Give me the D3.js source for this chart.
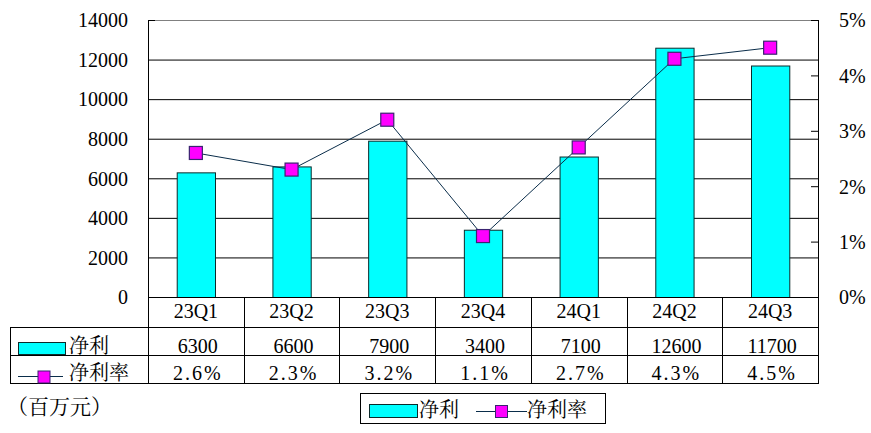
<!DOCTYPE html>
<html><head><meta charset="utf-8">
<script src="https://cdn.jsdelivr.net/npm/d3@7/dist/d3.min.js"></script>
<style>
body{margin:0;background:#fff;}
svg{display:block;}
</style>
</head><body>
<svg id="c" width="871" height="433"></svg>
<script>
const categories = ["23Q1","23Q2","23Q3","23Q4","24Q1","24Q2","24Q3"];
const profit = [6300,6600,7900,3400,7100,12600,11700];
const margin = [0.026,0.023,0.032,0.011,0.027,0.043,0.045];
const marginLabels = ["2.6%","2.3%","3.2%","1.1%","2.7%","4.3%","4.5%"];
const leftTicks = [0,2000,4000,6000,8000,10000,12000,14000];
const rightTicks = [0,0.01,0.02,0.03,0.04,0.05];
const seriesNames = ["净利","净利率"];
const unitLabel = "（百万元）";

const SERIF = "'Liberation Serif', 'Times New Roman', serif";
const CJK = "'Noto Serif CJK SC', 'Noto Sans CJK SC', serif";

const svg = d3.select("#c");
const L = 148, R = 818, T = 20, B = 297;
const rowY = [297, 327, 355, 383];
const tableLeft = 10;

const x = d3.scaleBand().domain(categories).range([L, R]).padding(0);
const y = d3.scaleLinear().domain([0,14000]).range([B, T]);
const y2 = d3.scaleLinear().domain([0,0.05]).range([B, T]);

const cyan = "#00FFFF", barStroke = "#0b2b2b", lineCol = "#0a2d4a", mag = "#FF00FF", magStroke = "#3a2370";

function numStyle(sel){ sel.attr("font-family",SERIF).attr("font-size",20).attr("fill","#000").style("font-family",SERIF); }
function cjkStyle(sel){ sel.attr("font-family",CJK).attr("font-size",20).attr("fill","#000").style("font-family",CJK); }

// gridlines
svg.append("g").selectAll("line").data(leftTicks.filter(d=>d>0)).join("line")
  .attr("x1", L).attr("x2", R)
  .attr("y1", d=>y(d)+0.5).attr("y2", d=>y(d)+0.5)
  .attr("stroke", d=> d===14000 ? "#808080" : "#000").attr("stroke-width",1);

// left axis labels
const ga = svg.append("g").attr("transform",`translate(${L},0)`)
  .call(d3.axisLeft(y).tickValues(leftTicks).tickSize(0).tickPadding(20).tickFormat(d3.format("d")));
ga.select(".domain").remove();
ga.attr("font-family",SERIF).attr("font-size",20);
ga.selectAll("text").call(numStyle).attr("dy","0.34em");
svg.append("line").attr("x1",L+0.5).attr("x2",L+0.5).attr("y1",T).attr("y2",B).attr("stroke","#000");
svg.append("line").attr("x1",L).attr("x2",L+7).attr("y1",T+0.5).attr("y2",T+0.5).attr("stroke","#000");

// right axis
const gr = svg.append("g").attr("transform",`translate(${R},0)`)
  .call(d3.axisRight(y2).tickValues(rightTicks).tickSize(-7).tickPadding(21).tickFormat(d3.format(".0%")));
gr.attr("font-family",SERIF).attr("font-size",20);
gr.select(".domain").attr("stroke","#000").attr("d",`M0.5,${T}V${B}`);
gr.selectAll(".tick line").attr("stroke","#000");
gr.selectAll("text").call(numStyle).attr("dy","0.34em");

// bars
const bw = x.bandwidth()*0.4;
svg.append("g").selectAll("rect").data(profit).join("rect")
  .attr("x", (d,i)=> x(categories[i]) + x.bandwidth()/2 - bw/2 + 0.5)
  .attr("y", d=> y(d)+0.5)
  .attr("width", bw).attr("height", d=> B - y(d))
  .attr("fill", cyan).attr("stroke", barStroke).attr("stroke-width",1);

// line
const cx = i => x(categories[i]) + x.bandwidth()/2;
svg.append("path").datum(margin)
  .attr("d", d3.line().x((d,i)=>cx(i)).y(d=>y2(d)))
  .attr("fill","none").attr("stroke",lineCol).attr("stroke-width",1);
const ms = 13;
svg.append("g").selectAll("rect").data(margin).join("rect")
  .attr("x",(d,i)=>cx(i)-ms/2).attr("y",d=>y2(d)-ms/2)
  .attr("width",ms).attr("height",ms)
  .attr("fill",mag).attr("stroke",magStroke).attr("stroke-width",1.2);

// x axis line
svg.append("line").attr("x1",L).attr("x2",R+1).attr("y1",B+0.5).attr("y2",B+0.5).attr("stroke","#000");

// table
const tbl = svg.append("g").attr("stroke","#000").attr("stroke-width",1);
[rowY[1],rowY[2],rowY[3]].forEach(yy=>{
  tbl.append("line").attr("x1",tableLeft).attr("x2",R+1).attr("y1",yy+0.5).attr("y2",yy+0.5);
});
const bounds = categories.map(c=>x(c)).concat([R]);
tbl.selectAll(".v").data(bounds).join("line").attr("class","v")
  .attr("x1",d=>Math.round(d)+0.5).attr("x2",d=>Math.round(d)+0.5)
  .attr("y1",rowY[0]).attr("y2",rowY[3]);
tbl.append("line").attr("x1",tableLeft+0.5).attr("x2",tableLeft+0.5).attr("y1",rowY[1]).attr("y2",rowY[3]);

// x labels (header row)
const gx = svg.append("g").attr("transform",`translate(0,${B})`)
  .call(d3.axisBottom(x).tickSize(0).tickPadding(0));
gx.select(".domain").remove();
gx.attr("font-family",SERIF).attr("font-size",20);
gx.selectAll("text").call(numStyle).attr("dy",null).attr("y",21);

// data rows
svg.append("g").selectAll("text").data(profit).join("text")
  .call(numStyle).attr("text-anchor","middle")
  .attr("x",(d,i)=>cx(i)+2).attr("y",353).text(d=>d);
svg.append("g").selectAll("text").data(marginLabels).join("text")
  .call(numStyle).attr("text-anchor","middle")
  .attr("x",(d,i)=>cx(i)+2).attr("y",380).attr("letter-spacing","2px").text(d=>d);

// row labels
svg.append("rect").attr("x",18.5).attr("y",342.5).attr("width",47).attr("height",12)
  .attr("fill",cyan).attr("stroke",barStroke);
svg.append("text").call(cjkStyle).attr("x",69).attr("y",353).text(seriesNames[0]);
svg.append("line").attr("x1",18).attr("x2",63).attr("y1",376.5).attr("y2",376.5).attr("stroke",lineCol);
svg.append("rect").attr("x",38).attr("y",371).attr("width",12).attr("height",12)
  .attr("fill",mag).attr("stroke",magStroke);
svg.append("text").call(cjkStyle).attr("x",69).attr("y",380).text(seriesNames[1]);

// unit
svg.append("text").call(cjkStyle).attr("font-size",21).attr("x",7).attr("y",414).text(unitLabel);

// legend
svg.append("rect").attr("x",360.5).attr("y",393.5).attr("width",245).attr("height",30)
  .attr("fill","#fff").attr("stroke","#000");
svg.append("rect").attr("x",369.5).attr("y",404.5).attr("width",48).attr("height",13)
  .attr("fill",cyan).attr("stroke",barStroke);
svg.append("text").call(cjkStyle).attr("x",419).attr("y",417).text(seriesNames[0]);
svg.append("line").attr("x1",476).attr("x2",527).attr("y1",411.5).attr("y2",411.5).attr("stroke",lineCol);
svg.append("rect").attr("x",495.5).attr("y",405.5).attr("width",12).attr("height",12)
  .attr("fill",mag).attr("stroke",magStroke);
svg.append("text").call(cjkStyle).attr("x",527).attr("y",417).text(seriesNames[1]);
</script>
</body></html>
